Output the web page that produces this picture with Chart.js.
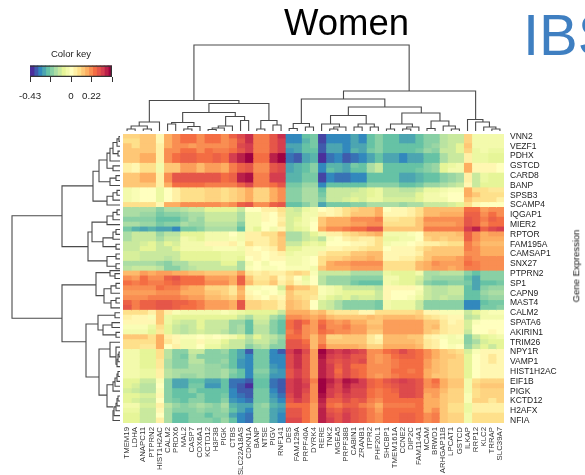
<!DOCTYPE html>
<html><head><meta charset="utf-8">
<style>
html,body{margin:0;padding:0;background:#fff;width:585px;height:475px;overflow:hidden;font-family:"Liberation Sans",Arial,sans-serif}
canvas{position:absolute;display:block}
.t{position:absolute;line-height:1;white-space:nowrap}
</style>
<script src="https://cdn.jsdelivr.net/npm/chart.js@4"></script>
</head><body>
<canvas id="main" width="585" height="475" style="left:0;top:0"></canvas>
<canvas id="top" width="381" height="91" style="left:123px;top:40px"></canvas>
<canvas id="left" width="120" height="289" style="left:0;top:134px"></canvas>
<canvas id="key" width="140" height="65" style="left:0;top:40px"></canvas>
<div class="t" style="left:284px;top:5px;font-size:36.5px;color:#000">Women</div>
<div class="t" style="left:523px;top:6px;font-size:58px;color:#3F7FC1">IBS</div>
<div class="t" style="left:576px;top:266px;font-size:9.5px;color:#111;transform:translate(-50%,-50%) rotate(-90deg)">Gene Expression</div>
<script>
const columnNames=["TMEM19","LDHA","ANAPC11","PTPRN2","HIST1H2AC","CALM2","PRDX6","MAL2","CASP7","COX6A1","KCTD12","H3F3B","PIGK","CTBS","SLC22A18AS","CDKN1A","BANP","NTSE","PIGV","RNF141","DES","FAM129A","PRPF40A","DYRK4","RERE","TNK2","MGEA5","PRPF38B","CABIN1","ZRANB1","ITPR2","PHF20L1","SHCBP1","TMEM161A","CCNE2","DIP2C","FAM114A1","MCAM","BRWD1","ARHGAP11B","LPCAT1","GSTCD","ILKAP","RRP12","KLC2","TRRAP","SLC39A7"];
const rowNames=["VNN2","VEZF1","PDHX","GSTCD","CARD8","BANP","SPSB3","SCAMP4","IQGAP1","MIER2","RPTOR","FAM195A","CAMSAP1","SNX27","PTPRN2","SP1","CAPN9","MAST4","CALM2","SPATA6","AKIRIN1","TRIM26","NPY1R","VAMP1","HIST1H2AC","EIF1B","PIGK","KCTD12","H2AFX","NFIA"];
const keyStep=0.043; // one unit in the rows below, in colour-key value
const heatRows=[
[2.5,2.5,3,3,.5,4,5,6,6,5,6,6,5,6.5,7.5,8.5,5.5,5.5,7,8.5,-8,-8,-6,-5.5,-9.5,-8,-8,-8,-7,-8,-6,-5,-6,-6,-7,-7,-6,-5,-5,-3.5,-3,-3,2.5,-1,-1,-1,-1],
[2,2,3,3,.5,4,5,6,6,5,6,6,5,5.5,7,8.5,5.5,5.5,7,8,-8,-8,-6.5,-5.5,-9.5,-8,-8,-8,-7,-8,-6,-5,-6,-6,-7,-7,-6,-5,-5,-3.5,-3,-3,2.5,-1,-1,-1,-1],
[3,2,3,3,1,4,5,5,4.5,5,5,5,5,5.5,7.5,8,5.5,5.5,7,8,-7,-7,-6,-5.5,-9,-7,-7,-8,-7,-7,-6,-5,-6,-6,-6,-6,-6,-5,-4.5,-3.5,-3,-2,3,-1,-1,-1,-1],
[3,3,3,3,1,5,5,6,6,5,6,5.5,5.5,6,7,8,5.5,5.5,7,8,-7.5,-7,-6,-6,-9,-7,-7,-8,-6.5,-7,-5.5,-5,-6,-6,-6,-6,-5.5,-4.5,-5,-3,-3,-2,2.5,-1.5,-1,-1.5,-1.5],
[3,3,4,4,1,5,6,6.5,6.5,6,6,6.5,6,8,9,10,6,6,9,10,-8.5,-9,-7,-6.5,-10,-8.5,-8,-9,-8.5,-8,-7,-6,-7,-7,-8,-7,-7,-6,-6,-4,-3,-3,1,-1.5,-1.5,-2,-2],
[3,3,4,4,1,5,6,6.5,6.5,6,6,6.5,6,8,9,10,6,6,9,10,-8.5,-9,-7,-6.5,-10,-8.5,-8,-9,-8.5,-8,-7,-6,-7,-7,-8,-7,-7,-6,-6,-4,-3,-3,1,-1.5,-1.5,-2,-2],
[1,.5,2,2,-1,3,3,4.5,4.5,3.5,4.5,4.5,4,5.5,6.5,7,5,5,7,7.5,-7,-6.5,-6,-5,-8,-6.5,-6.5,-7,-5.5,-6,-4,-3,-6,-6,-6,-6,-6,-5,-4.5,-2,-1.5,-1,4,.5,.5,.5,0],
[1,.5,2,2,-1,3,3,4.5,4.5,3.5,4.5,4.5,4,5.5,6.5,7,5,5,7,7.5,-7,-6.5,-6,-5,-8,-6,-6.5,-7,-6,-6,-4,-3,-6,-6,-6,-6,-5.5,-5,-4.5,-2,-1,-1,4,.5,.5,.5,0],
[3,3,4,4,1,5,7,7,7,7,7,7,6,6.5,9,9.5,5.5,5.5,8,8,-6.5,-6.5,-5.5,-5.5,-9.5,-8,-8.5,-8.5,-8,-8,-6,-6,-6,-6,-7,-7,-6.5,-6,-6,-5,-4.5,-4,1,-3,-1.5,-2,-2],
[3,3,4,4,1,5,7,7,7,7,7,7,6,6.5,9,9.5,5.5,5.5,8,8,-6.5,-6.5,-5.5,-5.5,-9.5,-8,-8.5,-8.5,-8,-8,-6,-6,-6,-6,-7,-7,-6.5,-6,-6,-5,-4.5,-4,1,-3,-1.5,-2,-2],
[3,3,3,3,1,4,6,6,6,6,5.5,5.5,5.5,5.5,6.5,7.5,5.5,5.5,6,7,-5.5,-5.5,-4.5,-4.5,-8,-6,-6,-6,-6,-6,-5,-5,-5,-5,-6,-6,-5.5,-4.5,-4.5,-4,-3.5,-3,.5,-3,-2,-2,-2],
[-1,-.5,0,0,-1.5,0,1,2,2,2,2.5,2.5,2,2.5,3,4,2.5,2.5,4,5,-5,-5,-4,-4,-6,-3,-3,-3,-3,-2.5,-2,-1.5,-3,-3,-3.5,-3.5,-3,-1.5,-1.5,-1,-.5,-.5,4,2,2,1.5,1.5],
[-1,-.5,0,0,-1.5,0,1,2,2,2,2.5,2.5,2,2.5,3,4,2.5,2.5,4,5,-5,-5,-4,-4,-5.5,-3,-3,-3,-2.5,-2.5,-2,-1.5,-3,-3,-3,-3,-2,-1,-1,-.5,0,0,4,3,2,2,2],
[-1,-.5,0,0,-1.5,0,1,2,2,2,2.5,2.5,2,2.5,3,4,2.5,2.5,4,5,-5,-5,-4,-4,-5,-3,-3,-2.5,-2,-2.5,-1.5,-1.5,-2.5,-2.5,-2.5,-2.5,-2,-1,-1,-1,0,0,3,2,2,2,1],
[2,2,2,2,.5,4,4,5,5,5,5,5,4.5,5,6.5,7,5,5,6.5,7,-6,-6,-5,-4,-7,-5.5,-5.5,-5.5,-5,-5,-4,-4,-4,-4,-4.5,-4,-4,-3,-3,-3,-2.5,-2,2,.5,0,0,0],
[-4,-4,-4,-4,-5,-4,-4,-3.5,-3,-3,-2,-2,-2,-2,-3,0,0,1,1,2,-2.5,-3,-1.5,-1,0,.5,1,2,2.5,3,3,4,0,.5,.5,1,2,3.5,3.5,3.5,3.5,3.5,6,6,4.5,5,5],
[-4,-4,-4.5,-4.5,-5.5,-5,-5,-4.5,-4,-4,-3,-3,-3,-3,-4,-1,-1,.5,0,1.5,-2.5,-2.5,-1,-1,1,.5,1,2,3,3,3,4,.5,.5,.5,1,2,3.5,3.5,4,4,4,6.5,6.5,5,6,5],
[-5,-5,-5,-5,-6,-6,-6,-5,-4,-4.5,-3,-3,-3,-3,-4,-1,-1,.5,0,1,-2.5,-2,-1,-.5,3,4,4,4,5,5,5,5.5,1.5,1.5,2,2,3,5,5,5,5,5,7,6.5,5.5,6.5,6],
[-4,-4,-4.5,-4.5,-5.5,-5,-5,-4,-4.5,-4.5,-3.5,-3.5,-3.5,-3.5,-5,-1,-1,0,0,1.5,-2.5,-1.5,-1,0,3,4,4,4,4.5,4.5,5,5,2,2,2,2,3,4.5,4.5,4.5,4.5,5,7,6.5,5,6,6],
[-5.5,-6.5,-7,-6.5,-7,-7,-8,-5.5,-5.5,-5,-4,-4,-4,-4,-6,-1,-2,0,-1,.5,-2.5,-2,-1.5,0,4,5,5,5.5,6,6,7,7,3,3,3,3,3,5.5,5.5,5.5,5.5,5.5,8,9,6.5,7.5,8],
[-4,-3,-3,-3,-4.5,-3.5,-3.5,-2,-2,-2,-1,-1,-1,0,-1,1,1,2,2,3.5,-4,-4,-3,-2,-1,1,1,2,2.5,3,3.5,4,-1,-1,-1,-.5,0,3,3,3,3,3.5,6.5,5,4,4.5,4.5],
[-4,-3,-3,-3,-4,-3,-3,-1,-1.5,-2,-1,-1,-1,-.5,-1,1,1,1,2,3,-4,-4,-3,-2.5,-3.5,-.5,0,1,1.5,1,1,2,-1.5,-1.5,-1,-1,0,2.5,3,2.5,3,3,6.5,5,4,4,4],
[-3,-3,-2.5,-2,-3,-2,-2.5,-1,-1,-1,.5,.5,.5,1,-.5,2,1,1,2,3,-3,-3,-2,-1.5,-2,0,0,0,.5,.5,1,2,-1,-.5,-.5,0,.5,1,1,1.5,2,2,5.5,4.5,3.5,3.5,3.5],
[-3,-3,-2,-2,-3,-3,-2,-1,-1,-1,-1,-.5,-.5,-.5,-1,.5,0,.5,1,3,-2,-2,-1,-1,-1,.5,.5,1,1,1.5,2,2,0,.5,.5,.5,1.5,2.5,3,3,3,3,5.5,5,4,4,4],
[-2.5,-2.5,-3,-3,-3,-3,-3,-2,-2,-2,-2,-2,-1.5,-1.5,-1.5,.5,.5,0,.5,1,-1.5,-1,-1,-1,1,2,2,2,3,3,3.5,3.5,.5,.5,.5,.5,1,3,3,3,3,3,5,5,4,4,4],
[-2.5,-2.5,-3,-3,-3,-3.5,-3,-2,-2,-2,-2,-2,-1.5,-1.5,-2,0,.5,0,.5,.5,-1,-1,-.5,0,2,2.5,2.5,3,3.5,3.5,4,3.5,.5,.5,1,1,2,3,4,4,4,4.5,5.5,5,5,5,5],
[-4,-4,-4,-4,-4.5,-5,-4,-4,-3,-3,-3,-3,-2,-2,-4,-1,0,-1,0,0,-1,-1,-.5,0,2,4,4.5,4.5,5,5,5,5,2,2,2,2,3.5,4,5,4.5,4.5,4.5,6,5.5,5,5,5],
[-3.5,-3,-3,-3,-3.5,-5,-5,-4,-3.5,-3,-3,-3,-3,-3,-4,-.5,0,-.5,-.5,0,-.5,-.5,-.5,-1,3,4,4,4,4.5,4.5,4.5,4.5,2,2,2,2,3.5,4,4.5,4.5,4,4.5,5.5,5.5,5,5,5],
[3.5,3.5,4.5,4,4.5,4.5,4,4,3.5,3.5,3,3,3,3,4.5,1.5,1,1.5,1,1,2,2.5,2,-.5,-3,-3,-3,-3,-4,-4,-4,-4,-1.5,-2,-2,-2,-1,-4,-4,-3.5,-3.5,-3.5,-5,-6,-5,-5,-5],
[5,4.5,6,5,5,6.5,7,6,6,6,4.5,4.5,4.5,4,6.5,3,1.5,1.5,2.5,.5,1.5,0,-1.5,0,-3.5,-4.5,-4.5,-4.5,-5,-5,-5,-5,-1,-1,-2,-2,-2.5,-4,-4.5,-4.5,-4.5,-4.5,-6,-7,-5,-5,-5],
[6,5.5,6,5.5,5.5,6,6.5,6,6,6,5,5,5,4,6.5,3.5,2,2,3,1,2,.5,-1,0,-3.5,-4.5,-4.5,-4.5,-5.5,-6,-6,-6,-1,-1.5,-2,-2,-3,-5,-5.5,-5.5,-5,-5,-5.5,-7,-6,-6,-5.5],
[5,5,5,5,6,5.5,5.5,4.5,4,4,2.5,2.5,2.5,1.5,4,-.5,-.5,0,0,-2.5,4,3,3,2,-.5,-1,-1.5,-3,-3,-3,-3,-3.5,.5,.5,.5,.5,-.5,-3,-3.5,-3.5,-3,-3,-6,-7,-5,-4.5,-4.5],
[4.5,4.5,4.5,4.5,5,5,5,4,4,4,3,3,2.5,1.5,3.5,.5,0,-.5,0,-1,3,2,2,2,-.5,-1,-1.5,-2,-2,-2,-2,-3,.5,0,0,0,-1,-3,-3.5,-3.5,-3,-3,-6,-6,-4.5,-4,-4],
[5,5,5,5.5,5.5,5.5,5.5,5,4.5,4.5,3.5,3.5,3,2.5,4,1,.5,0,1,.5,3,2.5,2,1.5,-1,-2,-2.5,-2,-3,-2.5,-2.5,-3,.5,0,0,-.5,-1.5,-3,-3.5,-3,-3.5,-3.5,-6,-6,-5,-4.5,-4.5],
[6.5,5.5,6.5,6.5,7,7,6.5,6.5,6,5.5,4.5,4.5,4.5,4,7,2.5,2.5,2,2,1,3.5,3,2.5,0,-2.5,-3,-4,-5,-5,-5,-5,-5.5,-1,-1.5,-1.5,-1.5,-3,-5,-5,-5,-5,-5,-8,-8,-6,-5.5,-5.5],
[7,5.5,6.5,6.5,7,7,6.5,6,6,5.5,4.5,4.5,4.5,4,7,2.5,2.5,2,2,1,3.5,3,2.5,0,-2.5,-3,-4,-5,-5,-5,-5,-5.5,-1,-1.5,-1.5,-1.5,-3,-5,-5,-5,-5,-5,-8,-8,-5.5,-5.5,-5],
[2,2,2,1,3,1,-.5,-1,-1,-1,-1,-1,-.5,-1,-1.5,-2,-2,-2,-2,-3,4,4,4,3,3.5,2,1.5,1.5,1.5,.5,.5,2,2,2,2,2,2.5,.5,.5,-.5,-.5,-.5,-3,-2,-1,-.5,-.5],
[1,.5,.5,-.5,3,-1.5,-2,-2,-2,-2,-2,-2,-2,-2,-3,-4,-2.5,-2.5,-4,-5,5,5,4.5,4,4.5,3.5,3,3,3,3,3.5,3,3.5,3.5,3.5,3.5,3,2,1.5,1,.5,.5,-3.5,-3,-1,-1,-1],
[.5,.5,.5,.5,3,-1.5,-2.5,-3,-3,-2,-3,-3,-3,-4.5,-4.5,-6,-3,-3,-5,-6,6,7,6,4.5,6,5,4.5,5,4,4,3,3,4.5,4.5,4.5,4.5,4.5,3,3,1.5,.5,1,-2.5,-.5,0,0,0],
[-.5,-.5,-.5,-1.5,2,-2,-3,-3.5,-3,-2,-3,-3,-3,-4.5,-4,-6,-3.5,-3.5,-5,-6,6,7,5,4.5,6.5,5,5,5.5,4.5,4.5,3.5,3.5,4.5,4.5,4.5,4.5,4.5,3,3.5,1.5,1,1,-2.5,0,0,0,0],
[-1,-1,-1,-2,1.5,-2,-3,-3.5,-3,-2.5,-3,-3,-3.5,-4.5,-4,-6,-3.5,-3.5,-5,-6,5.5,6.5,5,4.5,6,5.5,5,5,4.5,4.5,3,3,4.5,4.5,4.5,4.5,4.5,3,2.5,1.5,1,1,-3,0,0,.5,0],
[3,3,3,2,4,1,.5,-.5,-.5,0,-.5,0,-.5,-1,-2,-3.5,-2,-3,-3.5,-4.5,6,6,5,3.5,5,2.5,2.5,3,3,3,1.5,.5,3.5,3.5,3.5,3,3,1,.5,-.5,-1,-.5,-5,-3,-2,-1.5,-1],
[2,2,2,2,4,1.5,.5,-1,-1,.5,-1,-1,-2,-3,-3,-4,-3,-3,-4,-5,7,7,6,3.5,5,3,3,3,3,3,1.5,1,3.5,3.5,3.5,3.5,3,1.5,1,0,-1,-1,-5,-4,-2.5,-2,-2],
[2,2,1.5,1.5,4,0,1,-1,-1,0,-1.5,-1.5,-2.5,-3,-3,-5,-4,-3.5,-5,-5,7,7,6.5,3.5,6,4,4,4,4,3.5,2.5,2.5,4,4,4,4,3.5,1.5,1,0,-.5,0,-4.5,-3,-2,-3,-2],
[-1,-1,-2,-2,2,-3.5,-5,-5,-3,-3,-5,-5,-4.5,-6,-7,-9,-5.5,-5.5,-8,-9,8,9,7.5,4.5,10,8.5,8,8.5,8,7.5,5,5,6,6.5,7.5,6.5,6,5,4,3,2.5,2,-2.5,-.5,.5,.5,.5],
[-1,-1,-2,-2,2,-3.5,-5,-5.5,-3.5,-5,-5,-5,-5,-6,-7,-8,-5.5,-5.5,-8,-8,7.5,8.5,7,4.5,9.5,8,7.5,8,7,7,5,4.5,5,6,6.5,6.5,6,5,4,3,3,2.5,-2,0,.5,1.5,.5],
[-1,-1,-2,-2,1.5,-4,-5,-5,-3.5,-3.5,-5,-5,-4.5,-6,-7.5,-8,-5.5,-5.5,-8,-8,7.5,8.5,7,4.5,9,7.5,7,7.5,7,7.5,5,4.5,5,5.5,6,6,6,4.5,3.5,3,2.5,2.5,-2,0,.5,1.5,.5],
[-1,-1,-2,-2,1.5,-4,-5,-5,-4,-4,-4.5,-4.5,-5,-6,-7.5,-8,-5.5,-5.5,-7.5,-8,7.5,8.5,7,4.5,9,8,6.5,7.5,6,6,5,5,5,5.5,6,6,6,4.5,3.5,3,2.5,2.5,-2,0,.5,.5,.5],
[-1,-1,-1.5,-1.5,1,-3.5,-4,-4,-4,-4,-4.5,-4.5,-4,-5,-6,-8,-5,-5,-7,-7.5,7,8,7,4.5,9,8,6,7.5,6.5,6,5,5,5,6,6,5.5,6,4,3.5,3,2.5,2.5,-2,0,.5,.5,.5],
[-1,-1,-1.5,-1.5,1,-3.5,-4,-4.5,-4.5,-4,-4.5,-4.5,-4,-5.5,-6,-8,-5.5,-5.5,-7.5,-7.5,7,8,7,4.5,9,8,6.5,7.5,6.5,6,5,4.5,5,5.5,6,6,6,4,3,3,2.5,2.5,-2,0,.5,.5,.5],
[-2,-2,-3,-3,-.5,-5,-7,-7,-6,-6,-7,-7,-6,-8.5,-8.5,-9,-6,-6,-8.5,-9,8,8.5,7.5,5.5,10,9,8,9.5,9,8,6.5,6,7,7.5,8,7.5,7,5,6,4,3,3,-1,2,2.5,2.5,2.5],
[-2,-2.5,-3.5,-3.5,0,-5,-7,-7,-5.5,-5.5,-7.5,-7.5,-6,-8.5,-9,-10,-6,-6,-8.5,-9,8,8.5,8,5,10,8.5,7.5,9,8,8,6.5,6,6.5,7,7.5,7.5,7,5,5.5,4,3,3,-1,2.5,3,3,3],
[-2.5,-3,-3.5,-3.5,-.5,-5,-6,-6,-5,-6,-6,-6,-6,-8,-9,-9,-5.5,-5.5,-8,-9,8,8.5,7.5,5,10,8,7.5,8.5,7.5,7.5,6,5.5,6,6.5,7.5,7.5,7,4.5,4.5,3.5,2.5,2.5,-1,2,2.5,2.5,2.5],
[-2,-2,-2.5,-2.5,.5,-5,-6,-6,-6,-5,-6,-6,-5.5,-8,-8.5,-9,-5.5,-5.5,-7.5,-8.5,7.5,8.5,7,5,9.5,8,7,8,7.5,7.5,6,5.5,6,6,7.5,7.5,7,4,4.5,3,2.5,2.5,-.5,2,2.5,2.5,2.5],
[-2,-2.5,-3,-3,0,-5,-5.5,-6,-5,-5,-6,-6,-5,-7.5,-8,-8.5,-5.5,-5.5,-7,-8,7,8,7,5,9,6.5,6.5,7.5,6.5,7,5.5,5,6,6,6,6,6,4,4,3,2.5,2.5,-.5,2.5,2.5,1.5,2.5],
[-1,-1,-2.5,-2.5,1,-3.5,-4.5,-5,-4.5,-4,-4.5,-5,-4,-6.5,-7,-7,-5,-4.5,-6.5,-7,6,6,6,4.5,8.5,6,5.5,6.5,6.5,5.5,5,4,5.5,5.5,5.5,5.5,6,4,4,3,2,2,-1.5,1,1,1,1],
[-1.5,-1.5,-3,-3,.5,-4,-5,-5,-5,-4.5,-5,-5,-4.5,-6,-7,-8,-5,-5,-7,-7.5,7,7,6,4.5,9,7,6.5,7.5,7,6.5,5.5,4.5,6,6,6,6,6,4,5,3,2,2,-1.5,1,1,1,1],
[-2,-2,-3,-3,0,-4,-6,-6,-5,-5,-6,-5,-5,-7,-8,-8.5,-5,-5,-7,-8,7,7,6,4.5,9,7.5,7,8,7,6.5,5.5,5,6,6,6.5,6.5,6,5,5.5,3,2.5,2.5,-1,2,2,2,2],
[-2,-2,-3,-3,1,-4,-6,-6,-5,-5,-5,-5.5,-4.5,-6,-8,-8.5,-5,-5,-7,-8,7.5,7.5,6,4.5,9,8,7,8,7,6.5,5.5,5,6,6,6.5,6.5,6,5,5.5,3,2.5,2.5,-1,2,2,2,2]
];
// [positionA, heightA, positionB, heightB, joinHeight]
const topMerges=[[.5,0,1.5,0,2],[2.5,0,3.5,0,2],[1,2,3,2,5],[2,5,4.5,0,9],[5.5,0,6.5,0,7],[7.5,0,8.5,0,2],[8,2,9.5,0,4.5],[6,7,8.75,4.5,8.5],[10.5,0,11.5,0,1.5],[11,1.5,12.5,0,3],[11.75,3,13.5,0,5],[14.5,0,15.5,0,10.5],[12.66,5,15,10.5,14.5],[7.36,8.5,13.85,14.5,18.5],[16.5,0,17.5,0,2],[18.5,0,19.5,0,6],[17,2,19,6,10.5],[10.6,18.5,18,10.5,27.5],[3.25,9,14.3,27.5,30.5],[20.5,0,21.5,0,2.5],[22.5,0,23.5,0,4],[21,2.5,23,4,7.5],[25.5,0,26.5,0,2],[26,2,27.5,0,4],[24.5,0,26.7,4,7],[28.5,0,29.5,0,4],[30.5,0,31.5,0,4],[29,4,31,4,7],[25.6,7,30,7,15.5],[32.5,0,33.5,0,2],[34.5,0,35.5,0,2],[35,2,36.5,0,4],[33,2,35.7,4,7],[37.5,0,38.5,0,2.5],[40.5,0,41.5,0,2],[39.5,0,41,2,5],[38,2.5,40.2,5,10],[34.4,7,39.1,10,18],[27.8,15.5,36.8,18,24],[22,7.5,32.3,24,32],[45.5,0,46.5,0,2],[44.5,0,46,2,4],[43.5,0,45.2,4,9],[42.5,0,44.4,9,11.5],[27.2,32,43.5,11.5,40],[8.75,30.5,35.3,40,86]];
const leftMerges=[[.5,0,1.5,0,1],[1,1,2.5,0,3],[3.5,0,4.5,0,2],[1.75,3,4,2,7],[2.9,7,5.5,0,10],[6.5,0,7.5,0,7],[3.9,10,7,7,13],[8.5,0,9.5,0,4],[9,4,10.5,0,10],[5.3,13,9.75,10,21],[11.5,0,12.5,0,3],[12,3,13.5,0,7],[12.7,7,14.5,0,13],[7.6,21,13.7,13,27],[15.5,0,16.5,0,3],[16,3,17.5,0,7],[16.75,7,18.5,0,13],[19.5,0,20.5,0,4],[20,4,21.5,0,7],[22.5,0,23.5,0,4],[21.2,7,23,4,17],[18,13,22,17,28],[24.5,0,25.5,0,4],[26.5,0,27.5,0,4],[25,4,27,4,13],[20,28,25.9,13,32],[10.6,27,23,32,58],[28.5,0,29.5,0,5],[27.9,0,29,5,10],[30.5,0,31.5,0,4],[31,4,32.5,0,9],[33.5,0,34.5,0,4],[34,4,35.5,0,9],[31.6,9,34.5,9,16],[28.3,10,33,16,24],[36.5,0,37.5,0,5],[38.5,0,39.5,0,8],[40.5,0,41.5,0,4],[39,8,41,4,17],[37,5,40,17,22],[44.5,0,45.5,0,1],[45,1,46.5,0,2],[46,2,47.5,0,3],[43.5,0,47,3,4],[42.5,0,45.5,4,10],[48.5,0,49.5,0,2],[49,2,50.5,0,3],[49.8,3,51.5,0,5],[50.6,5,52.5,0,7],[53.5,0,54.5,0,2],[54,2,55.5,0,3],[55,3,56.5,0,4],[55.7,4,57.5,0,6],[56.5,6,58.5,0,7],[51.2,7,55.7,7,13],[43.9,10,53.3,13,21],[38.8,22,49.6,21,34],[30.8,24,42.4,34,58],[16.7,58,37.6,58,108]];
const keyLevels=[-10,-9,-8,-7,-6,-5,-4,-3,-2,-1,0,1,2,3,4,5,6,7,8,9,10];
const keyTicks=[-0.43,-0.215,0,0.215,0.43];
const keyTickLabels=["-0.43","","0","0.22",""];
const stops=[[-10,[75,46,155]],[-8,[50,136,189]],[-6,[102,194,165]],[-4,[171,221,164]],[-2,[230,245,152]],[0,[255,255,191]],[2,[254,224,139]],[4,[253,174,97]],[6,[244,109,67]],[8,[213,62,79]],[10,[158,1,66]]];
function colorOf(level){
  for(let i=1;i<stops.length;i++){
    if(level<=stops[i][0]){
      const a=stops[i-1],b=stops[i],t=(level-a[0])/(b[0]-a[0]);
      const c=a[1].map((v,k)=>Math.round(v+(b[1][k]-v)*t));
      return `rgb(${c[0]},${c[1]},${c[2]})`;
    }
  }
  return 'rgb(158,1,66)';
}
const FONT='"Liberation Sans",Arial,sans-serif';
new Chart(document.getElementById('main'),{
  type:'bar',
  data:{
    labels:heatRows.map((_,i)=>i%2?'':rowNames[i/2]),
    datasets:columnNames.map((name,c)=>({
      label:name,
      data:heatRows.map(()=>1),
      backgroundColor:heatRows.map(r=>colorOf(r[c])),
      borderWidth:0,inflateAmount:0.5,
      barPercentage:1,categoryPercentage:1
    }))
  },
  options:{
    indexAxis:'y',responsive:false,animation:false,
    layout:{padding:{left:123,top:134,right:0,bottom:0}},
    plugins:{legend:{display:false},tooltip:{enabled:false}},
    scales:{
      x:{type:'linear',stacked:true,min:0,max:columnNames.length,
        afterBuildTicks:a=>{a.ticks=columnNames.map((_,i)=>({value:i+.5}));},
        afterFit:s=>{s.height=52;},
        grid:{display:false,drawTicks:false},border:{display:false},
        ticks:{autoSkip:false,minRotation:90,maxRotation:90,padding:4,color:'#333',font:{size:7.8,family:FONT},
          callback:(v,i)=>columnNames[i]}},
      y:{type:'category',stacked:true,position:'right',
        afterFit:s=>{s.width=81;},
        grid:{display:false,drawTicks:false},border:{display:false},
        ticks:{autoSkip:false,padding:6,color:'#222',font:{size:8.5,family:FONT}}}
    }
  }
});
function dendro(id,merges,horizontal,posMax,hMax){
  const pt=(p,h)=>horizontal?{x:h,y:p}:{x:p,y:h};
  new Chart(document.getElementById(id),{
    type:'scatter',
    data:{datasets:merges.map(m=>({
      data:[pt(m[0],m[1]),pt(m[0],m[4]),pt(m[2],m[4]),pt(m[2],m[3])],
      showLine:true,pointRadius:0,borderColor:'#4a4a4a',borderWidth:1.1,tension:0,clip:false
    }))},
    options:{responsive:false,animation:false,
      plugins:{legend:{display:false},tooltip:{enabled:false}},
      scales:horizontal?{
        x:{type:'linear',display:false,min:0,max:hMax,reverse:true},
        y:{type:'linear',display:false,min:0,max:posMax,reverse:true}
      }:{
        x:{type:'linear',display:false,min:0,max:posMax},
        y:{type:'linear',display:false,min:0,max:hMax}
      }
    }
  });
}
dendro('top',topMerges,false,columnNames.length,91);
dendro('left',leftMerges,true,heatRows.length,120);
const lo=keyTicks[0],hi=keyTicks[4],bin=(hi-lo)/keyLevels.length;
new Chart(document.getElementById('key'),{
  type:'bar',
  data:{labels:['key'],datasets:keyLevels.map((l,i)=>({
      data:[[lo+i*bin,lo+(i+1)*bin]],backgroundColor:colorOf(l),borderWidth:0,inflateAmount:0.5,
      barPercentage:1,categoryPercentage:1,grouped:false,order:1
    })).concat([{data:[[lo,hi]],backgroundColor:'rgba(0,0,0,0)',borderColor:'#333',borderWidth:1,
      barPercentage:1,categoryPercentage:1,grouped:false,order:0}])},
  options:{indexAxis:'y',responsive:false,animation:false,
    layout:{padding:{left:30,right:28,top:9,bottom:0}},
    plugins:{legend:{display:false},tooltip:{enabled:false},
      title:{display:true,text:'Color key',color:'#222',font:{size:9.5,weight:'normal',family:FONT},padding:{top:0,bottom:5}}},
    scales:{
      x:{type:'linear',min:lo,max:hi,
        afterBuildTicks:a=>{a.ticks=keyTicks.map(v=>({value:v}));},
        afterFit:s=>{s.height=28;},
        grid:{drawOnChartArea:false,drawTicks:true,tickLength:5,color:'#333'},border:{display:false},
        ticks:{autoSkip:false,maxRotation:0,padding:9,color:'#222',font:{size:9.7,family:FONT},
          callback:(v,i)=>keyTickLabels[i]}},
      y:{type:'category',display:false}
    }
  }
});
</script>
</body></html>
